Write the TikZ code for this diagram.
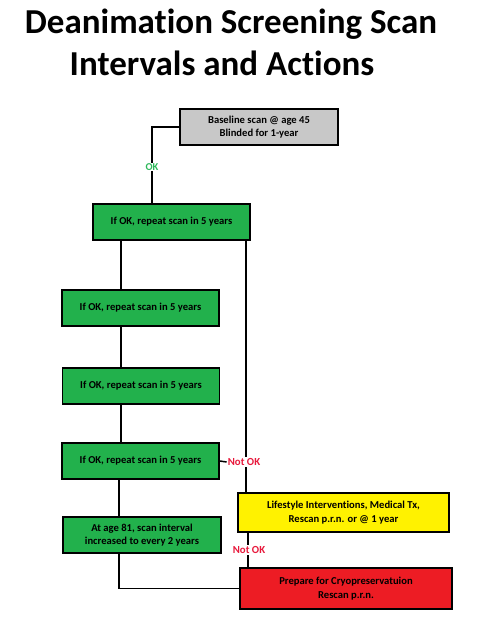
\documentclass[tikz,border=0pt]{standalone}
\usepackage{fontspec}
\setmainfont{Carlito}[Ligatures={NoCommon}]
\usetikzlibrary{calc}
\definecolor{boxgreen}{HTML}{22B14C}
\definecolor{boxyellow}{HTML}{FFF200}
\definecolor{boxred}{HTML}{ED1C24}
\definecolor{boxgray}{HTML}{C8C8C8}
\definecolor{okgreen}{HTML}{2DB85A}
\definecolor{notred}{HTML}{E8193C}
\tikzset{
  box/.style={draw=black, line width=1.6pt, minimum height=36pt, inner sep=0pt,
    align=center, font=\bfseries\fontsize{10.6}{13.5}\selectfont},
  greenbox/.style={box, fill=boxgreen, minimum width=157pt},
  conn/.style={line width=1.5pt, draw=black},
  oklab/.style={font=\bfseries\fontsize{10.5}{11}\selectfont, text=okgreen, fill=white, inner sep=1pt},
  notlab/.style={font=\bfseries\fontsize{10.8}{11}\selectfont, text=notred, fill=white, inner sep=1pt},
  titletext/.style={font=\bfseries\fontsize{35}{40}\selectfont, anchor=base}
}
\begin{document}
\begin{tikzpicture}[x=1pt,y=-1pt]
\useasboundingbox[fill=white] (0,0) rectangle (478,633);
\node[titletext] (t1) at (231,33) {Deanimation Screening Scan};
\node[titletext] (t2) at (222,75) {Intervals and Actions};

\node[box, fill=boxgray, minimum width=158pt] (base) at (259,127) {Baseline scan @ age 45\\Blinded for 1-year};
\node[greenbox] (g1) at (171.5,222) {If OK, repeat scan in 5 years};
\node[greenbox] (g2) at (140.5,308) {If OK, repeat scan in 5 years};
\node[greenbox] (g3) at (141,386) {If OK, repeat scan in 5 years};
\node[greenbox] (g4) at (140.5,461) {If OK, repeat scan in 5 years};
\node[greenbox, minimum width=158pt] (g5) at (142,535) {At age 81, scan interval\\increased to every 2 years};
\node[box, fill=boxyellow, minimum width=211pt, minimum height=39pt] (yel) at (343.5,512.5) {Lifestyle Interventions, Medical Tx,\\Rescan p.r.n. or @ 1 year};
\node[box, fill=boxred, minimum width=212pt, minimum height=41pt] (red) at (346,588.5) {Prepare for Cryopreservatuion\\Rescan p.r.n.};

\coordinate (okc) at (152,167);
\coordinate (lx) at (121,0);
\coordinate (lx2) at (119,0);
\coordinate (rx) at (246,0);
\coordinate (rx2) at (248,0);

\draw[conn] (base.west) -| (okc) -- (okc |- g1.north);
\draw[conn] (g1.south -| lx) -- (g2.north -| lx);
\draw[conn] (g2.south -| lx) -- (g3.north -| lx);
\draw[conn] (g3.south -| lx) -- (g4.north -| lx);
\draw[conn] (g4.south -| lx2) -- (g5.north -| lx2);
\draw[conn] (g5.south -| lx2) |- (red.west);
\draw[conn] (g1.south -| rx) -- (yel.north -| rx);
\draw[conn] (yel.south -| rx2) -- (red.north -| rx2);

\node[oklab] (ok) at (okc) {OK};
\node[notlab] (n1) at (244,462) {Not OK};
\node[notlab] (n2) at (249,550) {Not OK};
\draw[conn] (g4.east) -- (n1.west);
\end{tikzpicture}
\end{document}
